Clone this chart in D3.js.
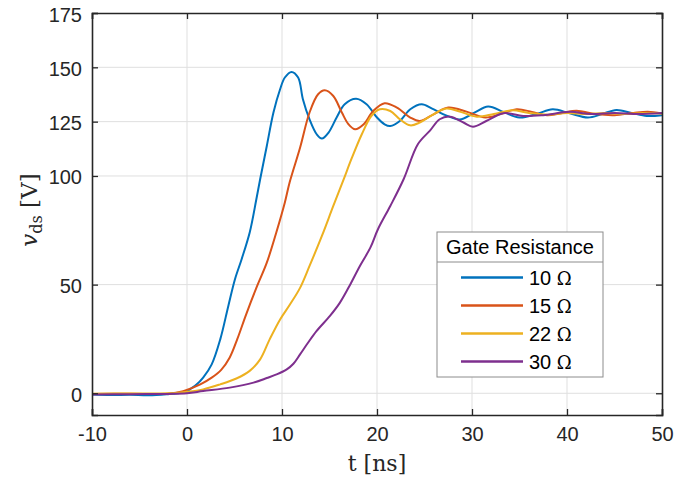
<!DOCTYPE html>
<html><head><meta charset="utf-8">
<script src="https://cdn.jsdelivr.net/npm/d3@7"></script>
<style>body{margin:0;background:#fff}svg{display:block}</style>
</head><body>
<script>
const seriesNames = ["10 Ω","15 Ω","22 Ω","30 Ω"];
const seriesColors = ["#0072BD","#D95319","#EDB120","#7E2F8E"];
const xTicks = [-10,0,10,20,30,40,50];
const yTicks = [0,50,100,125,150,175];

const t10 = [-10,-8,-6,-4,-2,-1,0,0.3,1,1.7,2.6,3.5,4.35,5.05,5.75,6.6,7.3,7.7,8.4,9.1,9.8,10.3,11.0,11.7,12.2,12.9,13.65,14.2,14.9,15.75,16.6,17.8,18.9,20.0,20.8,21.4,22.4,23.5,24.7,25.8,27.2,28.7,30.2,31.7,33.3,35.0,36.8,38.5,40.3,42.2,43.7,45.2,46.8,48.4,50];
const v10 = [-0.6,-0.8,-0.7,-0.9,-0.4,0,0.8,1.8,4,7.2,13.3,24.8,40.2,52.5,61.7,74,89.3,98.5,113.8,129.2,139.9,145.3,147.9,145.3,135.3,126,119.2,117.2,120,126.9,133,135.5,133,126.9,123.8,123,125.3,130.7,133,131,128,126,129,132,129.5,126.9,128.5,130.7,128.8,126.9,128.5,130.4,129,127.6,128];

const t15 = [-10,-6,-2,-0.4,1.4,2.6,3.6,4.5,5.3,6.2,7.3,8.4,9.4,10.3,10.8,11.9,12.9,13.8,14.5,15.4,16.3,17.0,17.7,18.6,19.6,20.8,22.1,23.5,24.5,26,27.5,29.5,31.4,33,34.7,36.3,37.9,39.5,41,43,45,47,48.5,50];
const v15 = [-0.3,-0.2,-0.2,1,4.1,7.2,10.8,16.5,25,36,48.5,60.1,74,87.8,97,113,129.2,137.6,139.4,136.8,129.2,123.8,121.5,123.8,129.9,133.5,131.5,126.9,125.3,128.5,131.5,129.5,126.9,128.5,130.7,129.5,127.9,129,130,128.5,128,129,129.5,128.8];

const t22 = [-10,-6,-2,-0.4,1.7,3.5,5.2,6.6,7.7,8.7,9.8,10.8,11.9,12.9,14.2,15.4,16.5,17.3,18.4,19.4,20.3,21.4,22.4,23.5,24.5,25.8,27.3,28.8,30.5,32.3,34.2,36,38,40,42,44,46,48,50];
const v22 = [-0.2,-0.1,0,0.5,1.8,4.1,6.8,10.3,15.6,24.8,34,40.6,48.5,58.6,72.4,86.2,98.5,107.7,119.2,127.6,130.7,129.9,126.1,123.3,124.6,128,131,129.5,127.3,128.5,130.2,129,128.2,129,128.5,129,128.5,129,128.8];

const t30 = [-10,-6,-2,0,1.7,4.5,7.0,8.4,9.5,10.5,11.2,11.9,12.7,13.65,15.05,16.1,17.2,18.2,19.3,20.1,21.4,22.8,24.3,25.6,26.6,27.7,29.1,30.1,31.5,33.3,35.4,37.5,40.3,42.5,45,47.5,50];
const v30 = [-0.6,-0.4,-0.3,0,1,2.6,4.9,7,8.8,11,13.6,17.9,23,28.7,35.6,41.7,50.2,58.6,67,75.5,86.2,98.5,114.6,121,126.1,127.3,124.6,122.7,125.3,128.9,127.6,128,129.5,128.5,129,128.5,129];

const tAll = [t10,t15,t22,t30];
const vAll = [v10,v15,v22,v30];

const W = 676, H = 487;
const L = 92, R = 662, T = 13, B = 415;
const svg = d3.select("body").append("svg").attr("width",W).attr("height",H);
const x = d3.scaleLinear().domain([-10,50]).range([L,R]);
const y = d3.scaleLinear().domain([-10,175]).range([B,T]);
const ink = "#262626";
const sans = "'Liberation Sans', Arial, sans-serif";
const serif = "'DejaVu Serif', serif";
const fmt = d => String(d);

// grid
svg.append("g").selectAll("line").data(xTicks.slice(1,-1)).join("line")
  .attr("x1",d=>x(d)).attr("x2",d=>x(d)).attr("y1",T).attr("y2",B)
  .attr("stroke","#dfdfdf").attr("stroke-width",1);
svg.append("g").selectAll("line").data(yTicks.filter(d=>d<175)).join("line")
  .attr("x1",L).attr("x2",R).attr("y1",d=>y(d)).attr("y2",d=>y(d))
  .attr("stroke","#dfdfdf").attr("stroke-width",1);

// data lines
const line = d3.line().x(d=>x(d[0])).y(d=>y(d[1])).curve(d3.curveCatmullRom.alpha(0.5));
svg.append("clipPath").attr("id","c").append("rect").attr("x",L).attr("y",T).attr("width",R-L).attr("height",B-T);
tAll.forEach((ts,i)=>{
  const pts = ts.map((t,j)=>[t,vAll[i][j]]);
  svg.append("path").attr("d",line(pts)).attr("fill","none")
    .attr("stroke",seriesColors[i]).attr("stroke-width",2).attr("clip-path","url(#c)");
});

// axes
const xb = svg.append("g").attr("transform",`translate(0,${B})`)
  .call(d3.axisBottom(x).tickValues(xTicks).tickSize(-6).tickPadding(12).tickFormat(fmt));
const xt = svg.append("g").attr("transform",`translate(0,${T})`)
  .call(d3.axisTop(x).tickValues(xTicks).tickSize(-6).tickFormat(""));
const yl = svg.append("g").attr("transform",`translate(${L},0)`)
  .call(d3.axisLeft(y).tickValues(yTicks).tickSize(-6).tickPadding(10).tickFormat(fmt));
const yr = svg.append("g").attr("transform",`translate(${R},0)`)
  .call(d3.axisRight(y).tickValues(yTicks).tickSize(-6).tickFormat(""));
[xb,xt,yl,yr].forEach(g=>{
  g.select(".domain").attr("stroke",ink).attr("stroke-width",1.6);
  g.selectAll(".tick line").attr("stroke",ink).attr("stroke-width",1.3);
  g.selectAll("text").attr("fill",ink).style("font-family",sans).style("font-size","20px");
});
xb.selectAll(".tick text").attr("dy","0.71em");
yl.selectAll(".tick text").attr("dy","0.4em");

// axis labels
svg.append("text").attr("x",377).attr("y",471).attr("text-anchor","middle")
  .style("font-family",serif).style("font-size","22px").attr("fill",ink).text("t [ns]");

const ylab = svg.append("text").attr("transform","translate(37,210) rotate(-90)")
  .attr("text-anchor","middle").style("font-family",serif).style("font-size","23px").attr("fill",ink);
ylab.append("tspan").style("font-style","italic").text("v");
ylab.append("tspan").attr("dy",5).style("font-size","16px").text("ds");
ylab.append("tspan").attr("dy",-5).text(" [V]");

// legend
const lg = svg.append("g");
lg.append("rect").attr("x",437).attr("y",232).attr("width",166).attr("height",145)
  .attr("fill","#fff").attr("stroke","#8c8c8c").attr("stroke-width",1);
lg.append("line").attr("x1",437).attr("x2",603).attr("y1",262).attr("y2",262)
  .attr("stroke","#8c8c8c").attr("stroke-width",1);
lg.append("text").attr("x",520).attr("y",254).attr("text-anchor","middle")
  .style("font-family",sans).style("font-size","20px").attr("fill","#000").text("Gate Resistance");
const ly = [277.5,305.5,333.5,361.5];
seriesNames.forEach((nm,i)=>{
  lg.append("line").attr("x1",461).attr("x2",523).attr("y1",ly[i]).attr("y2",ly[i])
    .attr("stroke",seriesColors[i]).attr("stroke-width",2.5);
  const parts = nm.split(" ");
  const tx = lg.append("text").attr("x",529).attr("y",ly[i]+7).attr("fill","#000").style("font-size","20px");
  tx.append("tspan").style("font-family",sans).text(parts[0]+" ");
  tx.append("tspan").style("font-family",serif).style("font-size","18px").text(parts[1]);
});
</script>
</body></html>
